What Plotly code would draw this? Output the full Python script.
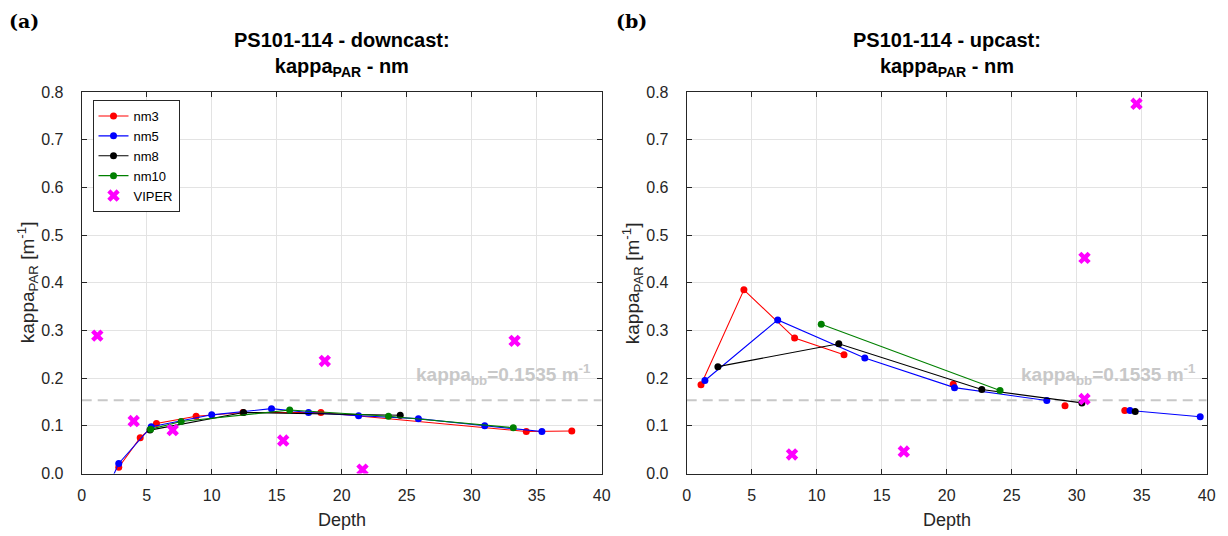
import plotly.graph_objects as go

# ---- data: panel (a) downcast ----
down_nm3_x = [2.85, 4.5, 5.75, 8.8, 12.4, 18.4, 34.2, 37.7]
down_nm3_y = [0.013, 0.075, 0.105, 0.120, 0.128, 0.128, 0.088, 0.089]
down_nm5_x = [2.3, 2.85, 5.35, 10.0, 14.6, 17.45, 21.3, 25.9, 31.0, 35.4]
down_nm5_y = [-0.012, 0.021, 0.098, 0.123, 0.136, 0.128, 0.121, 0.115, 0.100, 0.088]
down_nm8_x = [5.25, 12.45, 24.5]
down_nm8_y = [0.091, 0.128, 0.122]
down_nm10_x = [5.3, 7.65, 16.0, 23.6, 33.2]
down_nm10_y = [0.093, 0.109, 0.133, 0.120, 0.096]
down_viper_x = [1.2, 4.0, 7.0, 15.5, 18.7, 21.6, 33.3]
down_viper_y = [0.289, 0.110, 0.091, 0.069, 0.236, 0.008, 0.278]

# ---- data: panel (b) upcast (None = gap in line) ----
up_nm3_x = [1.1, 4.4, 8.3, 12.1, None, 20.5, None, 29.1, None, 33.7]
up_nm3_y = [0.186, 0.385, 0.284, 0.249, None, 0.187, None, 0.142, None, 0.132]
up_nm5_x = [1.4, 7.0, 13.7, 20.6, 27.7, None, 34.1, 39.5]
up_nm5_y = [0.195, 0.322, 0.242, 0.180, 0.153, None, 0.132, 0.119]
up_nm8_x = [2.4, 11.7, 22.7, 30.4, None, 34.5]
up_nm8_y = [0.224, 0.272, 0.176, 0.148, None, 0.130]
up_nm10_x = [10.35, 24.1]
up_nm10_y = [0.313, 0.174]
up_viper_x = [8.1, 16.7, 30.6, 30.6, 34.6]
up_viper_y = [0.040, 0.046, 0.156, 0.452, 0.775]

kappa_bb = 0.1535

series_names = ["nm3", "nm5", "nm8", "nm10"]
series_colors = ["#ff0000", "#0000ff", "#000000", "#008000"]
viper_color = "#ff00ff"

down_series = [(down_nm3_x, down_nm3_y), (down_nm5_x, down_nm5_y),
               (down_nm8_x, down_nm8_y), (down_nm10_x, down_nm10_y)]
up_series = [(up_nm3_x, up_nm3_y), (up_nm5_x, up_nm5_y),
             (up_nm8_x, up_nm8_y), (up_nm10_x, up_nm10_y)]

SANS = "Liberation Sans, Arial, Helvetica"
INK = "#262626"

fig = go.Figure()

for panel, (series, vx, vy) in enumerate([(down_series, down_viper_x, down_viper_y),
                                          (up_series, up_viper_x, up_viper_y)]):
    xa = "x" if panel == 0 else "x2"
    ya = "y" if panel == 0 else "y2"
    # reference line for kappa_bb
    fig.add_trace(go.Scatter(
        x=[0, 40], y=[kappa_bb, kappa_bb], mode="lines", showlegend=False,
        line=dict(color="#c8c8c8", width=2, dash="10px,6px"),
        hoverinfo="skip", xaxis=xa, yaxis=ya))
    for name, color, (sx, sy) in zip(series_names, series_colors, series):
        fig.add_trace(go.Scatter(
            x=sx, y=sy, mode="lines+markers", name=name,
            line=dict(color=color, width=1.1),
            marker=dict(color=color, size=7),
            connectgaps=False, showlegend=(panel == 0),
            xaxis=xa, yaxis=ya, cliponaxis=True))
    fig.add_trace(go.Scatter(
        x=vx, y=vy, mode="markers", name="VIPER",
        marker=dict(color=viper_color, size=11, symbol="x"),
        showlegend=(panel == 0), xaxis=xa, yaxis=ya))

axis_common = dict(
    showline=True, linecolor=INK, linewidth=1, mirror="ticks",
    ticks="inside", ticklen=5, tickcolor=INK, automargin=False,
    showgrid=True, gridcolor="#e3e3e3", gridwidth=1, zeroline=False,
    tickfont=dict(family=SANS, size=16, color=INK),
)

xdom = [(81.7 / 1228, 601.7 / 1228), (686.7 / 1228, 1206.7 / 1228)]
ydom = [1 - 473.5 / 536, 1 - 91.9 / 536]

for i, key in enumerate(["xaxis", "xaxis2"]):
    fig.layout[key] = dict(
        axis_common, domain=list(xdom[i]), range=[0, 40], dtick=5,
        anchor="y" if i == 0 else "y2", ticklabelstandoff=7)
for i, key in enumerate(["yaxis", "yaxis2"]):
    fig.layout[key] = dict(
        axis_common, domain=ydom, range=[0, 0.8], dtick=0.1, tickformat=".1f",
        anchor="x" if i == 0 else "x2", ticklabelstandoff=14)

annotations = []
titles = ["PS101-114 - downcast:", "PS101-114 - upcast:"]
labels = ["(a)", "(b)"]
label_x = [7, 614]
ytitle_x = [27.5, 632.5]
for i in range(2):
    cx = (xdom[i][0] + xdom[i][1]) / 2
    annotations.append(dict(
        text="<b>" + titles[i] + "</b><br><b>kappa<sub>PAR</sub> - nm</b>",
        x=cx, y=1 - 27 / 536, xref="paper", yref="paper",
        xanchor="center", yanchor="top", showarrow=False,
        font=dict(family=SANS, size=20, color="#000000")))
    annotations.append(dict(
        text="<b>" + labels[i] + "</b>", x=label_x[i] / 1228, y=1 - 8 / 536,
        xref="paper", yref="paper", xanchor="left", yanchor="top",
        showarrow=False,
        font=dict(family="DejaVu Serif, Liberation Serif", size=19, color="#000000")))
    annotations.append(dict(
        text="<b>kappa<sub>bb</sub>=0.1535 m<sup>-1</sup></b>",
        x=39.3, y=0.207, xref="x" if i == 0 else "x2", yref="y" if i == 0 else "y2",
        xanchor="right", yanchor="middle", showarrow=False,
        font=dict(family=SANS, size=19, color="#c8c8c8")))
    # axis titles
    annotations.append(dict(
        text="Depth", x=cx, y=1 - 520 / 536, xref="paper", yref="paper",
        xanchor="center", yanchor="middle", showarrow=False,
        font=dict(family=SANS, size=18, color=INK)))
    annotations.append(dict(
        text="kappa<sub>PAR</sub> [m<sup>-1</sup>]", x=ytitle_x[i] / 1228,
        y=(ydom[0] + ydom[1]) / 2, xref="paper", yref="paper",
        xanchor="center", yanchor="middle", textangle=-90, showarrow=False,
        font=dict(family=SANS, size=19, color=INK)))

fig.update_layout(
    width=1228, height=536,
    margin=dict(l=0, r=0, t=0, b=0),
    paper_bgcolor="white", plot_bgcolor="white",
    annotations=annotations,
    legend=dict(
        x=92.5 / 1228, y=1 - 100 / 536, xanchor="left", yanchor="top",
        bgcolor="white", bordercolor=INK, borderwidth=1,
        font=dict(family=SANS, size=13, color="#000000"),
        tracegroupgap=0, itemwidth=30),
)

fig.write_html("out.html")
